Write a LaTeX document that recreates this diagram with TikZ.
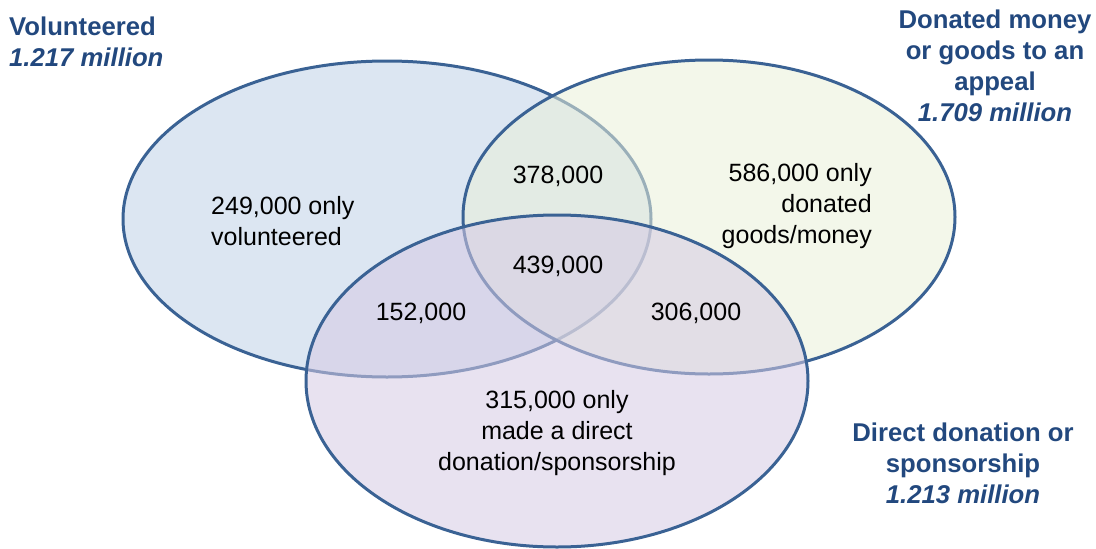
\documentclass[tikz,border=0pt]{standalone}
\usepackage{fontspec}
\setmainfont{Liberation Sans}
\begin{document}
\definecolor{edge}{RGB}{58,98,148}
\definecolor{titleblue}{RGB}{34,72,126}
\definecolor{volfill}{RGB}{220,230,242}
\definecolor{donfill}{RGB}{233,240,217}
\definecolor{dirfill}{RGB}{213,202,228}
\begin{tikzpicture}[x=1pt,y=-1pt,
  setline/.style={draw=edge,line width=3pt},
  count/.style={font=\fontsize{25}{31}\selectfont,text=black,inner sep=0pt},
  heading/.style={font=\fontsize{25.7}{31}\selectfont\bfseries,text=titleblue,inner sep=0pt}]
\useasboundingbox (0,0) rectangle (1096,549);
% three overlapping sets
\path[setline,fill=volfill] (387,219) ellipse [x radius=264,y radius=158];
\path[setline,fill=donfill,fill opacity=0.55] (709,217) ellipse [x radius=246,y radius=157];
\path[setline,fill=dirfill,fill opacity=0.55] (557,381) ellipse [x radius=251,y radius=166];
% set titles
\node[heading,anchor=west,align=left] (tvol) at (9,42) {Volunteered\\\itshape 1.217 million};
\node[heading,align=center] (tdon) at (995,66) {Donated money\\or goods to an\\appeal\\\itshape 1.709 million};
\node[heading,align=center] (tdir) at (963,463) {Direct donation or\\sponsorship\\\itshape 1.213 million};
% region counts
\node[count,anchor=west,align=left] (vonly) at (211,221) {249,000 only\\volunteered};
\node[count] (vd) at (558,176) {378,000};
\node[count,anchor=east,align=right] (donly) at (872,206) {586,000 only\\donated\\goods/money};
\node[count] (all) at (558,266) {439,000};
\node[count] (vdir) at (421,313) {152,000};
\node[count] (ddir) at (696,313) {306,000};
\node[count,align=center] (dironly) at (557,433) {315,000 only\\made a direct\\donation/sponsorship};
\end{tikzpicture}
\end{document}
